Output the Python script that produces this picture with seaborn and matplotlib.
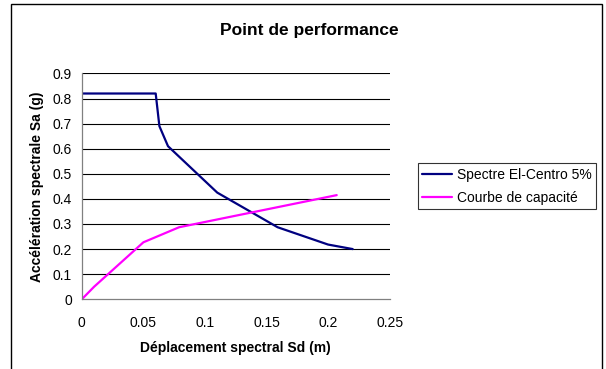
import matplotlib
matplotlib.use("Agg")
import matplotlib.pyplot as plt
import seaborn as sns
import pandas as pd
from matplotlib.patches import Rectangle

# Demand spectrum (El-Centro, 5% damping) in ADRS format
spectre_sd = [0.0, 0.06, 0.063, 0.07, 0.11, 0.159, 0.20, 0.22]
spectre_sa = [0.82, 0.82, 0.69, 0.61, 0.425, 0.287, 0.218, 0.20]

# Capacity curve of the structure
capacite_sd = [0.0, 0.01, 0.05, 0.079, 0.207]
capacite_sa = [0.0, 0.05, 0.227, 0.287, 0.415]

series_names = ["Spectre El-Centro 5%", "Courbe de capacité"]
series_colors = ["#000080", "#FF00FF"]

x_ticks = [0, 0.05, 0.1, 0.15, 0.2, 0.25]
x_tick_labels = ["0", "0.05", "0.1", "0.15", "0.2", "0.25"]
y_ticks = [0, 0.1, 0.2, 0.3, 0.4, 0.5, 0.6, 0.7, 0.8, 0.9]
y_tick_labels = ["0", "0.1", "0.2", "0.3", "0.4", "0.5", "0.6", "0.7", "0.8", "0.9"]

df = pd.concat([
    pd.DataFrame({"Sd": spectre_sd, "Sa": spectre_sa, "serie": series_names[0]}),
    pd.DataFrame({"Sd": capacite_sd, "Sa": capacite_sa, "serie": series_names[1]}),
], ignore_index=True)

sns.set_theme(style="white")
plt.rcParams["font.family"] = ["Liberation Sans", "DejaVu Sans"]
plt.rcParams["text.color"] = "black"
plt.rcParams["axes.labelcolor"] = "black"

fig = plt.figure(figsize=(6.06, 3.69), dpi=100)
ax = fig.add_axes([0.135, 0.189, 0.508, 0.612])

sns.lineplot(data=df, x="Sd", y="Sa", hue="serie", hue_order=series_names,
             palette=dict(zip(series_names, series_colors)),
             sort=False, estimator=None, linewidth=1.6, ax=ax)

ax.set_xlim(0, 0.25)
ax.set_ylim(0, 0.9)
ax.set_xticks(x_ticks)
ax.set_xticklabels(x_tick_labels)
ax.set_yticks(y_ticks)
ax.set_yticklabels(y_tick_labels)

for y in y_ticks[1:]:
    ax.axhline(y, color="black", linewidth=0.8, zorder=0)

for side in ["top", "right"]:
    ax.spines[side].set_visible(False)
for side in ["left", "bottom"]:
    ax.spines[side].set_color("#808080")
    ax.spines[side].set_linewidth(0.9)

ax.tick_params(axis="both", direction="out", length=4, width=0.8,
               color="#808080", labelsize=10, labelcolor="black")
ax.tick_params(axis="x", pad=8)
ax.tick_params(axis="y", pad=3)

ax.set_xlabel("Déplacement spectral Sd (m)", fontsize=10, fontweight="bold",
              labelpad=8, color="black")
ax.set_ylabel("Accélération spectrale Sa (g)", fontsize=10, fontweight="bold",
              labelpad=6, color="black")

fig.text(0.511, 0.918, "Point de performance", ha="center", va="center",
         fontsize=12.5, fontweight="bold", color="black")

handles, labels = ax.get_legend_handles_labels()
ax.get_legend().remove()
leg = fig.legend(handles, labels, loc="upper left",
                 bbox_to_anchor=(0.689, 0.557), frameon=True, fancybox=False,
                 edgecolor="black", fontsize=10, handlelength=2.15,
                 handletextpad=0.4, borderpad=0.3, labelspacing=0.65,
                 borderaxespad=0, labelcolor="black")
leg.get_frame().set_linewidth(0.8)

# Outer chart frame
fig.patches.append(Rectangle((0.018, -0.05), 0.975, 1.04, transform=fig.transFigure,
                             fill=False, edgecolor="black", linewidth=1.0))

fig.savefig("out.png", dpi=100)
